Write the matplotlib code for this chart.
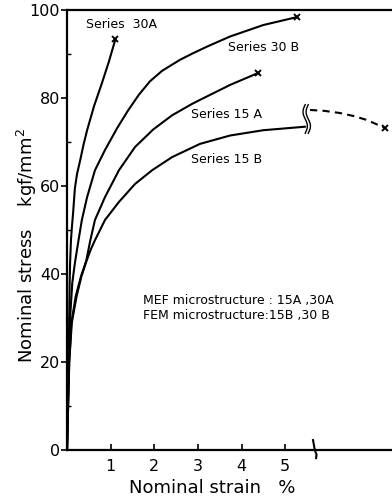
import matplotlib
matplotlib.use('Agg')
import matplotlib.pyplot as plt
import numpy as np

# strain (%) and stress (kgf/mm2)
strain_30A = [0, 0.03, 0.05, 0.06, 0.07, 0.09, 0.11, 0.14, 0.18, 0.23, 0.30, 0.38, 0.46, 0.62, 0.80, 0.96, 1.11]
stress_30A = [0, 20, 30, 38, 42.5, 47.7, 50.5, 54, 59.5, 62.8, 65.8, 69.5, 72.7, 78.2, 83.4, 88.3, 93.4]

strain_30B = [0, 0.04, 0.07, 0.12, 0.18, 0.26, 0.34, 0.46, 0.64, 0.87, 1.15, 1.40, 1.65, 1.90, 2.18, 2.59,
              2.87, 3.21, 3.74, 4.50, 5.27]
stress_30B = [0, 20, 30, 38, 42.5, 47.5, 52.3, 57.5, 63.6, 68.2, 73.2, 77.2, 80.8, 83.8, 86.2, 88.7,
              90.1, 91.7, 94.0, 96.6, 98.4]

strain_15A = [0, 0.05, 0.10, 0.20, 0.32, 0.44, 0.53, 0.64, 0.87, 1.19, 1.56, 1.98, 2.41, 2.87, 3.05, 3.74, 4.38]
stress_15A = [0, 20, 29, 35, 39.5, 43, 47.5, 52.3, 57.5, 63.6, 68.9, 72.9, 76.1, 78.7, 79.6, 83.0, 85.7]

strain_15B = [0, 0.05, 0.11, 0.22, 0.33, 0.44, 0.54, 0.64, 0.87, 1.19, 1.56, 1.95, 2.41, 3.05, 3.74, 4.50, 5.46]
stress_15B = [0, 20, 29, 35, 39.5, 42.8, 45.5, 47.7, 52.3, 56.4, 60.5, 63.6, 66.6, 69.6, 71.5, 72.7, 73.5]

# dashed continuation of 15B after the break
strain_15B_ext = [5.57, 5.90, 6.26, 6.58, 6.88, 7.29]
stress_15B_ext = [77.3, 77.1, 76.6, 75.9, 75.0, 73.2]

fig = plt.figure(figsize=(3.92, 5.03), dpi=100)
ax = fig.add_axes([0.171, 0.105, 0.829, 0.875])

lw = 1.5
for xs, ys in [(strain_30A, stress_30A), (strain_30B, stress_30B),
               (strain_15A, stress_15A), (strain_15B, stress_15B)]:
    ax.plot(xs, ys, color='black', lw=lw, solid_joinstyle='round', solid_capstyle='round')
ax.plot(strain_15B_ext, stress_15B_ext, color='black', lw=1.5, ls=(0, (3.5, 2.5)))

# end markers
ax.plot([strain_30A[-1], strain_30B[-1], strain_15A[-1], strain_15B_ext[-1]],
        [stress_30A[-1], stress_30B[-1], stress_15A[-1], stress_15B_ext[-1]],
        ls='none', marker='x', color='black', ms=5, mew=1.4)

# break mark on the 15B curve
t = np.linspace(0, 1, 30)
for dx in (0.0, 0.07):
    ax.plot(5.46 + dx + 0.05 * np.sin(t * 2 * np.pi), 72 + 6.5 * t, color='black', lw=1.0)

# break mark on the x axis
ax.plot([5.64, 5.68, 5.72, 5.71], [2.3, 0.0, -1.0, -1.8], color='black', lw=1.5, clip_on=False)

ax.set_xlim(0, 7.45)
ax.set_ylim(0, 100)
ax.spines['right'].set_visible(False)
for s in ('left', 'top', 'bottom'):
    ax.spines[s].set_linewidth(1.6)

ax.set_xticks([1, 2, 3, 4, 5])
ax.set_xticklabels(['1', '2', '3', '4', '5'], fontsize=11.5)
ax.tick_params(axis='x', direction='in', length=4, width=1.2, pad=6)
ax.set_yticks([0, 20, 40, 60, 80, 100])
ax.set_yticklabels(['0', '20', '40', '60', '80', '100'], fontsize=11.5)
ax.set_yticks([10, 30, 50, 70, 90], minor=True)
ax.tick_params(axis='y', which='major', direction='out', length=4, width=1.2, pad=1)
ax.tick_params(axis='y', which='minor', direction='in', length=3, width=1.0)

fs = 9
ax.text(1.24, 96.8, 'Series  30A', fontsize=fs, ha='center', va='center')
ax.text(4.5, 91.6, 'Series 30 B', fontsize=fs, ha='center', va='center')
ax.text(3.65, 76.3, 'Series 15 A', fontsize=fs, ha='center', va='center')
ax.text(3.65, 66.0, 'Series 15 B', fontsize=fs, ha='center', va='center')
ax.text(1.74, 34.0, 'MEF microstructure : 15A ,30A', fontsize=fs, ha='left', va='center')
ax.text(1.74, 30.6, 'FEM microstructure:15B ,30 B', fontsize=fs, ha='left', va='center')

fig.text(0.069, 0.511, 'Nominal stress    kgf/mm$^2$', rotation=90, fontsize=13,
         ha='center', va='center')
fig.text(0.541, 0.030, 'Nominal strain   %', fontsize=13, ha='center', va='center')

fig.savefig('out.png', dpi=100)
